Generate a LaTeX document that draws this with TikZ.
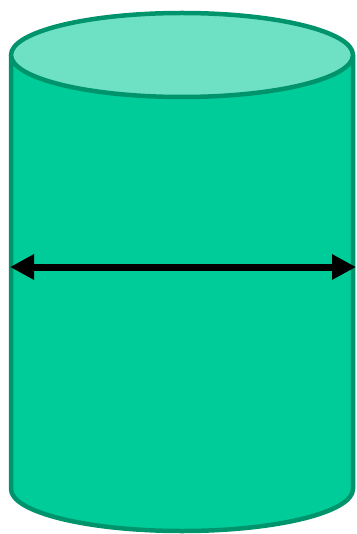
\documentclass[tikz,border=0pt]{standalone}
\usetikzlibrary{arrows.meta}
\definecolor{bodyfill}{RGB}{0,204,153}
\definecolor{topfill}{RGB}{110,224,196}
\definecolor{edge}{RGB}{0,148,108}
\tikzset{
  cylline/.style={draw=edge,line width=4.5pt,line join=round},
  widtharrow/.style={line width=7pt,{Triangle[length=24pt,width=24pt]}-{Triangle[length=24pt,width=24pt]}}
}
\begin{document}
\begin{tikzpicture}[x=1pt,y=-1pt]
\useasboundingbox (0,0) rectangle (356,534);
% body
\path[fill=bodyfill,cylline] (11,55) -- (11,489) arc[start angle=180,end angle=0,x radius=171,y radius=42] -- (353,55);
% top
\path[fill=topfill,cylline] (182,55) ellipse[x radius=171,y radius=42];
\coordinate (l) at (10,267);
\coordinate (r) at (356,267);
\draw[widtharrow] (l) -- (r);
\end{tikzpicture}
\end{document}
